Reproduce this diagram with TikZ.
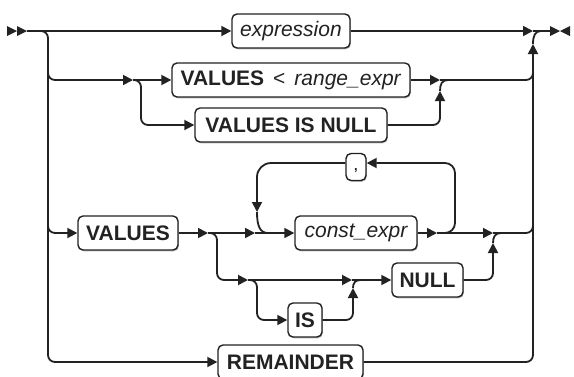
\documentclass[tikz,border=0pt]{standalone}
\usepackage{fontspec}
\setmainfont{Liberation Sans}
\usetikzlibrary{arrows.meta,shadows}
\definecolor{ink}{HTML}{222222}

\begin{document}
\begin{tikzpicture}[x=1pt,y=-1pt,
  rail/.style={line width=1.8pt, draw=ink, rounded corners=7pt},
  arr/.style={-{Triangle[length=10pt,width=10pt]}},
  term/.style={draw=ink, line width=1.4pt, rounded corners=5pt,
    minimum height=34pt, inner sep=0pt, fill=white, text=ink,
    font=\fontsize{21}{25}\selectfont\bfseries,
    drop shadow={shadow xshift=0.8pt, shadow yshift=-1.3pt, fill=gray!55, opacity=1}},
  nonterm/.style={term, font=\fontsize{21}{25}\selectfont\itshape},
]
\useasboundingbox (0,0) rectangle (574,376);

% boxes
\node[nonterm, minimum width=118pt] (expr) at (291,31) {expression};
\node[term, minimum width=238pt] (vlt) at (291,80)
  {VALUES\hspace{9pt}\textmd{<}\hspace{9pt}\textmd{\textit{range\_expr}}};
\node[term, minimum width=192pt] (vin) at (291,125) {VALUES IS NULL};
\node[term, minimum width=20pt, minimum height=27pt, text height=6pt, text depth=0pt,
  font=\fontsize{13}{15}\selectfont\bfseries] (comma) at (356,167) {,};
\node[term, minimum width=100pt] (vals) at (128,233) {VALUES};
\node[nonterm, minimum width=122pt] (cexpr) at (356,233) {const\_expr};
\node[term, minimum width=71pt] (null) at (427.5,280) {NULL};
\node[term, minimum width=34pt] (is) at (305,320) {IS};
\node[term, minimum width=145pt] (rem) at (290.5,362) {REMAINDER};

% junction points
\coordinate (st) at (27,31);
\coordinate (j1) at (533,31);
\coordinate (en) at (550,31);
\coordinate (s2) at (133,80);
\coordinate (m2) at (440,80);
\coordinate (lp) at (0,163);
\coordinate (s4a) at (208,233);
\coordinate (m4a) at (255,233);
\coordinate (m4b) at (437,233);
\coordinate (m4c) at (493,233);
\coordinate (s5) at (248,280);
\coordinate (m5) at (352,280);

% start and end markers
\fill[ink] (7,26) -- (17,31) -- (7,36) -- cycle;
\fill[ink] (17,26) -- (27,31) -- (17,36) -- cycle;
\fill[ink] (550,26) -- (560,31) -- (550,36) -- cycle;
\fill[ink] (570,26) -- (560,31) -- (570,36) -- cycle;

% main line
\draw[rail,arr] (st) -- (expr.west);
\draw[rail,arr] (expr.east) -- (j1);
\draw[rail] (j1) -- (en);

% left spine down to REMAINDER
\draw[rail,arr] (st) -- (48,31) -- (48,362) -- (rem.west);

% VALUES < range_expr / VALUES IS NULL
\draw[rail,arr] (48,60) -- (48,80) -- (s2);
\draw[rail,arr] (s2) -- (vlt.west);
\draw[rail,arr] (s2) -- (141,80) -- (141,125) -- (vin.west);
\draw[rail,arr] (vlt.east) -- (m2);
\draw[rail] (m2) -- (533,80) -- (533,60);
\draw[rail,arr] (vin.east) -- (440,125) -- (440,91);
\draw[rail] (440,91) .. controls (440,84) and (442,80) .. (448,80);

% right spine up to the main line
\draw[rail,arr] (rem.east) -- (533,362) -- (533,44);
\draw[rail] (533,44) .. controls (533,36) and (535,31) .. (541,31);

% VALUES const_expr list
\draw[rail,arr] (48,210) -- (48,233) -- (vals.west);
\draw[rail,arr] (vals.east) -- (s4a);
\draw[rail,arr] (s4a) -- (m4a);
\draw[rail,arr] (m4a) -- (cexpr.west);
\draw[rail,arr] (cexpr.east) -- (m4b);
\draw[rail,arr] (m4b) -- (m4c);
\draw[rail] (m4c) -- (533,233) -- (533,210);
% repeat loop through the comma
\draw[rail,rounded corners=10pt,arr] (m4b) -- (455,233) -- (455,163) -- (comma.east |- lp);
\draw[rail,rounded corners=14pt,arr] (comma.west |- lp) -- (257,163) -- (257,212);
\draw[rail] (257,212) .. controls (257,226) and (260,233) .. (268,233);

% [IS] NULL
\draw[rail,arr] (s4a) -- (217,233) -- (217,280) -- (s5);
\draw[rail,arr] (s5) -- (m5);
\draw[rail,arr] (m5) -- (null.west);
\draw[rail,arr] (null.east) -- (493,280) -- (493,243);
\draw[rail] (493,243) .. controls (493,237) and (495,233) .. (501,233);
\draw[rail,arr] (s5) -- (257,280) -- (257,320) -- (is.west);
\draw[rail,arr] (is.east) -- (353,320) -- (353,288);
\draw[rail] (353,288) .. controls (353,283) and (355,280) .. (361,280);
\end{tikzpicture}
\end{document}
